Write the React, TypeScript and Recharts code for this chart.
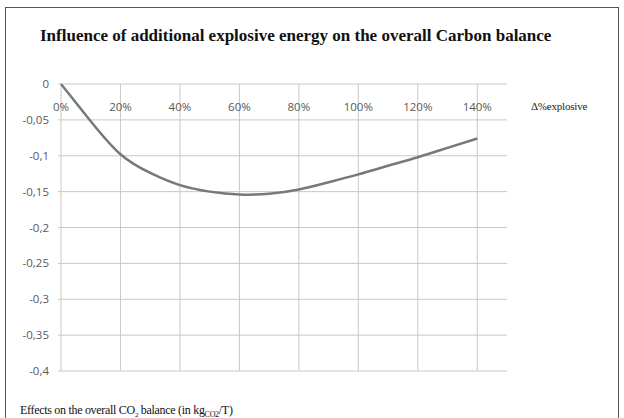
import React from 'react';
import { LineChart, Line, XAxis, YAxis, CartesianGrid, ReferenceLine } from 'recharts';

// extra explosive energy (fraction) and effect on CO2 balance (kg CO2 / T)
const deltaExplosive = [0, 0.1, 0.2, 0.3, 0.4, 0.5, 0.6, 0.7, 0.8, 0.9, 1.0, 1.1, 1.2, 1.3, 1.4];
const co2Effect = [0, -0.052, -0.098, -0.124, -0.141, -0.150, -0.154, -0.153, -0.147, -0.137, -0.126, -0.114, -0.102, -0.089, -0.076];

const xTicks = [0, 0.2, 0.4, 0.6, 0.8, 1.0, 1.2, 1.4];
const yTicks = [0, -0.05, -0.1, -0.15, -0.2, -0.25, -0.3, -0.35, -0.4];

const data = deltaExplosive.map((x, i) => ({ x, y: co2Effect[i] }));

const fmtY = (v: number) => String(v).replace('.', ',');
const fmtX = (v: number) => Math.round(v * 100) + '%';

const App: React.FC = () => {
  return (
    <div style={{ position: 'absolute', left: 0, top: 0, width: 624, height: 418, background: '#fff', overflow: 'hidden' }}>
      <div style={{ position: 'absolute', left: 5, top: 7, width: 612, height: 420, border: '1.5px solid #555' }} />
      <div style={{ position: 'absolute', left: 40, top: 26, fontFamily: "'Liberation Serif', serif", fontWeight: 'bold', fontSize: 17, color: '#111', whiteSpace: 'nowrap' }}>
        Influence of additional explosive energy on the overall Carbon balance
      </div>
      <div style={{ position: 'absolute', left: 531, top: 100, fontFamily: "'Liberation Serif', serif", fontSize: 11, color: '#222', letterSpacing: -0.2 }}>
        Δ%explosive
      </div>
      <div style={{ position: 'absolute', left: 20, top: 403, fontFamily: "'Liberation Serif', serif", fontSize: 12, color: '#111', letterSpacing: -0.3, whiteSpace: 'nowrap' }}>
        Effects on the overall CO<sub style={{ fontSize: 7 }}>2</sub> balance (in kg<sub style={{ fontSize: 8 }}>CO2</sub>/T)
      </div>
      <LineChart
        width={624}
        height={418}
        data={data}
        margin={{ top: 84, right: 117, bottom: 47, left: 0 }}
        style={{ position: 'absolute', left: 0, top: 0 }}
      >
        <CartesianGrid stroke="#c8c8c8" strokeWidth={1} vertical={false} />
        <XAxis dataKey="x" type="number" domain={[0, 1.5]} ticks={xTicks} hide />
        <YAxis
          type="number"
          domain={[-0.4, 0]}
          ticks={yTicks}
          width={61}
          axisLine={false}
          tickLine={{ stroke: '#c8c8c8' }}
          tickSize={3}
          tickMargin={9}
          tickFormatter={fmtY}
          tick={{ fontSize: 11.5, fill: '#595959', fontFamily: "'Open Sans', Arial, sans-serif" }}
          interval={0}
        />
        {xTicks.map((t) => (
          <ReferenceLine
            key={t}
            x={t}
            stroke="#c8c8c8"
            strokeWidth={1}
            label={(p: any) => (
              <text
                x={p.viewBox.x}
                y={p.viewBox.y + 27}
                textAnchor="middle"
                fontSize={11.5}
                fill="#595959"
                fontFamily="'Open Sans', Arial, sans-serif"
              >
                {fmtX(t)}
              </text>
            )}
          />
        ))}
        <Line
          type="natural"
          dataKey="y"
          stroke="#787878"
          strokeWidth={2.5}
          dot={false}
          isAnimationActive={false}
        />
      </LineChart>
    </div>
  );
};

export default App;
